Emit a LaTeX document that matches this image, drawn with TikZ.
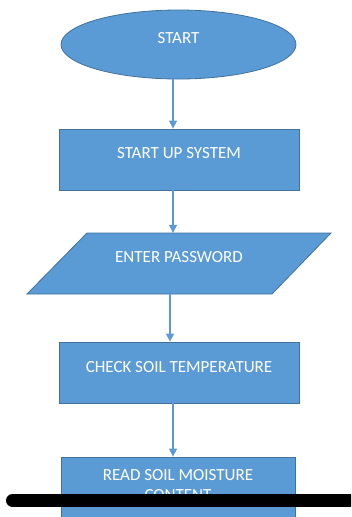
\documentclass[tikz,border=0pt]{standalone}
\usepackage{fontspec}
\setmainfont{Carlito}
\usetikzlibrary{shapes.geometric,arrows.meta,calc}
\definecolor{boxfill}{HTML}{5B9BD5}
\definecolor{boxline}{HTML}{41719C}
\definecolor{arrowc}{HTML}{5B9BD5}
\begin{document}
\begin{tikzpicture}[x=1pt,y=-1pt,
  shapebase/.style={draw=boxline, fill=boxfill, line width=0.8pt, inner sep=0pt},
  procbox/.style={shapebase, rectangle, minimum width=240pt, minimum height=61pt},
  lbl/.style={text=white, font=\fontsize{17}{20}\selectfont, inner sep=0pt, align=center},
  flow/.style={draw=arrowc, line width=1.3pt, -{Triangle[width=8pt,length=8pt]}}]
\useasboundingbox (0,0) rectangle (351,517);
\clip (0,0) rectangle (351,517);
\fill[white] (0,0) rectangle (351,517);
% shapes
\node[shapebase, ellipse, minimum width=235pt, minimum height=69pt] (start) at (178.5,44.5) {};
\node[procbox] (sys) at (179,159.5) {};
\node[rectangle, minimum width=244pt, minimum height=61pt, inner sep=0pt] (pw) at (179,263.5) {};
\draw[shapebase] (87,233) -- (331,233) -- (272,294) -- (27,294) -- cycle;
\node[procbox] (temp) at (179,372.5) {};
\node[procbox, minimum width=234pt] (moist) at (178,487.5) {};
% labels
\node[lbl] (tstart) at ($(start.center)+(0,-6.5)$) {START};
\node[lbl] (tsys) at ($(sys.center)+(0,-6.5)$) {START UP SYSTEM};
\node[lbl] (tpw) at ($(pw.center)+(0,-6.5)$) {ENTER PASSWORD};
\node[lbl] (ttemp) at ($(temp.center)+(0,-5.5)$) {CHECK SOIL TEMPERATURE};
\node[lbl] (tmoist) at (178,485) {READ SOIL MOISTURE\\CONTENT};
% connectors
\coordinate (a1) at (173,0);
\coordinate (a3) at (170,0);
\draw[flow] (start.south -| a1) -- (sys.north -| a1);
\draw[flow] (sys.south -| a1) -- (pw.north -| a1);
\draw[flow] (pw.south -| a3) -- (temp.north -| a3);
\draw[flow] (temp.south -| a1) -- (moist.north -| a1);
% black bar
\coordinate (barL) at (12.5,500.5);
\coordinate (barR) at (365,500.5);
\draw[black, line width=13pt, line cap=round] (barL) -- (barR);
\end{tikzpicture}
\end{document}
